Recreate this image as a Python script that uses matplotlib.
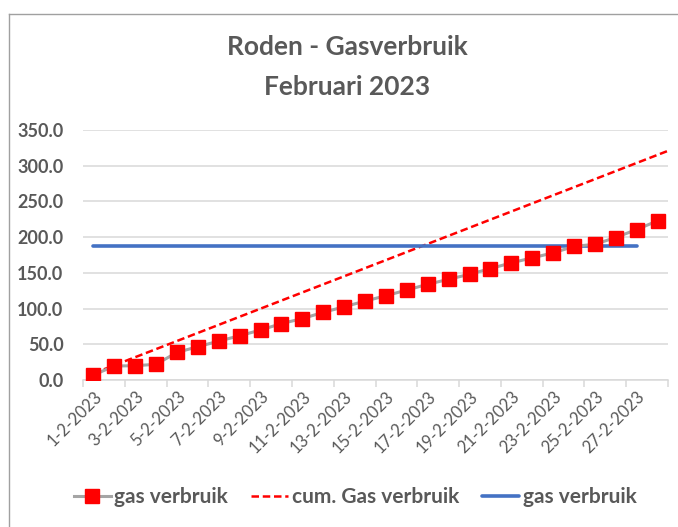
import matplotlib
matplotlib.use('Agg')
import matplotlib.pyplot as plt
from matplotlib.lines import Line2D
import numpy as np

plt.rcParams['font.family'] = ['Lato', 'DejaVu Sans']

# dagen februari 2023
dagen = ['%d-2-2023' % d for d in range(1, 29)]

# gas verbruik (cumulatief, m3)
gas = [7.0, 19.6, 20.0, 22.0, 38.7, 46.6, 54.5, 62.0, 70.0, 79.0, 86.0, 94.7,
       102.5, 110.5, 118.0, 126.0, 134.0, 141.0, 148.0, 156.0, 164.0, 171.0,
       178.0, 187.0, 190.0, 199.5, 210.7, 222.8]

# cum. Gas verbruik (norm lijn), begin- en eindpunt
cum_x = [0, 28]
cum_y = [9.3, 326.5]

# gas verbruik (vorig jaar), vlakke lijn
vlak_x = [0, 26]
vlak_y = [188.0, 188.0]

grijs = '#595959'

fig = plt.figure(figsize=(6.78, 5.27), dpi=100)
ax = fig.add_axes([83/678, 1 - 380/527, 585/678, 250/527])

x = np.arange(len(gas))
l1, = ax.plot(x, gas, '-', color='#a5a5a5', lw=2.2, marker='s', markersize=9.5,
              markerfacecolor='#ff0000', markeredgecolor='#ff0000', zorder=3,
              label='gas verbruik')
l2, = ax.plot(cum_x, cum_y, '--', color='#ff0000', lw=1.8, dashes=(3, 1.5),
              zorder=2, label='cum. Gas verbruik')
l3, = ax.plot(vlak_x, vlak_y, '-', color='#4472c4', lw=2.6,
              solid_capstyle='round', zorder=2, label='gas verbruik')

ax.set_xlim(-0.5, 27.5)
ax.set_ylim(0, 350)
ax.set_yticks(np.arange(0, 351, 50))
ax.set_yticklabels(['%.1f' % v for v in np.arange(0, 351, 50)],
                   fontsize=13, fontweight='bold', color=grijs)
ax.grid(axis='y', color='#d9d9d9', lw=1.1, zorder=0)
ax.set_axisbelow(True)

ax.set_xticks(x[::2])
ax.set_xticklabels(dagen[::2], rotation=45, ha='right', rotation_mode='anchor',
                   fontsize=12, color=grijs)
ax.set_xticks(np.arange(-0.5, 28, 2), minor=True)
ax.tick_params(axis='x', which='major', length=0, pad=6)
ax.tick_params(axis='x', which='minor', length=5, color='#d9d9d9', width=1.1)
ax.tick_params(axis='y', length=0, pad=14)

for s in ['top', 'right', 'left']:
    ax.spines[s].set_visible(False)
ax.spines['bottom'].set_color('#d9d9d9')
ax.spines['bottom'].set_linewidth(1.1)

fig.text(347/678, 1 - 47/527, 'Roden - Gasverbruik', ha='center', va='center',
         fontsize=19, fontweight='bold', color=grijs)
fig.text(347/678, 1 - 87/527, 'Februari 2023', ha='center', va='center',
         fontsize=19, fontweight='bold', color=grijs)

fig.legend(handles=[l1, l2, l3], loc='center', bbox_to_anchor=(355/678, 1 - 497/527),
           ncol=3, frameon=False, handlelength=1.8, handletextpad=0.15,
           columnspacing=1.1, labelcolor=grijs,
           prop={'size': 15, 'weight': 'bold'})

# kader om de grafiek
fig.add_artist(Line2D([9/678, 1], [1 - 14/527, 1 - 14/527], color='#a0a0a0', lw=1))
fig.add_artist(Line2D([9/678, 9/678], [0, 1 - 14/527], color='#a0a0a0', lw=1))

fig.savefig('out.png', dpi=100)
